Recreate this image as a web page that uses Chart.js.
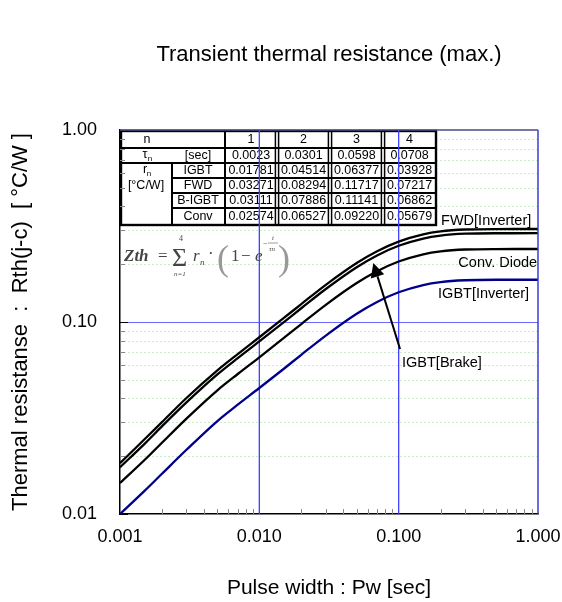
<!DOCTYPE html>
<html>
<head>
<meta charset="utf-8">
<script src="https://cdn.jsdelivr.net/npm/chart.js@4.4.1/dist/chart.umd.min.js"></script>
<style>
  html, body { margin: 0; padding: 0; background: #fff; }
</style>
</head>
<body>
<canvas id="thermalChart" width="562" height="602"></canvas>
<script>
// pulse width [sec] and Zth(j-c) [°C/W]
const pulseWidth   = [0.001, 0.0015, 0.002, 0.003, 0.005, 0.007, 0.01, 0.015, 0.02, 0.03, 0.05, 0.07, 0.1, 0.15, 0.2, 0.3, 0.5, 1.0];
const fwdInverter  = [0.0184, 0.0245, 0.0301, 0.0402, 0.0560, 0.0681, 0.0833, 0.1050, 0.1240, 0.1562, 0.2028, 0.2337, 0.2624, 0.2862, 0.2965, 0.3032, 0.3049, 0.3050];
const igbtBrake    = [0.0175, 0.0232, 0.0286, 0.0381, 0.0533, 0.0648, 0.0792, 0.0998, 0.1179, 0.1485, 0.1929, 0.2222, 0.2495, 0.2721, 0.2819, 0.2883, 0.2899, 0.2900];
const convDiode    = [0.0145, 0.0191, 0.0235, 0.0314, 0.0441, 0.0536, 0.0655, 0.0826, 0.0976, 0.1229, 0.1596, 0.1839, 0.2065, 0.2252, 0.2333, 0.2386, 0.2399, 0.2400];
const igbtInverter = [0.0100, 0.0132, 0.0162, 0.0216, 0.0305, 0.0371, 0.0453, 0.0571, 0.0675, 0.0850, 0.1104, 0.1272, 0.1428, 0.1558, 0.1614, 0.1650, 0.1660, 0.1660];

// tick labels (decades only)
const xTickLabels = ["0.001", "0.010", "0.100", "1.000"];
const yTickLabels = ["0.01", "0.10", "1.00"];

// parameter table shown in the chart
const tableCols = ["1", "2", "3", "4"];
const tauRow    = ["0.0023", "0.0301", "0.0598", "0.0708"];
const rowNames  = ["IGBT", "FWD", "B-IGBT", "Conv"];
const rRows = [
  ["0.01781", "0.04514", "0.06377", "0.03928"],
  ["0.03271", "0.08294", "0.11717", "0.07217"],
  ["0.03111", "0.07886", "0.11141", "0.06862"],
  ["0.02574", "0.06527", "0.09220", "0.05679"]
];

// curve labels (anchored in data coordinates)
const labelText  = ["FWD[Inverter]", "Conv. Diode", "IGBT[Inverter]", "IGBT[Brake]"];
const labelX     = [0.2015, 0.985, 0.1918, 0.1057];
const labelY     = [0.3377, 0.2022, 0.1396, 0.0613];
const labelAlign = ["left", "right", "left", "left"];

const FONT = '"Liberation Sans", Arial, sans-serif';
const SERIF = '"Liberation Serif", "DejaVu Serif", serif';

const decadeTicks = (lo, hi) => {
  const out = [];
  for (let e = lo; e < hi; e++) {
    for (let k = 1; k < 10; k++) out.push(Number((k * Math.pow(10, e)).toPrecision(3)));
  }
  out.push(Math.pow(10, hi));
  return out;
};
const isDecade = v => Math.abs(Math.log10(v) - Math.round(Math.log10(v))) < 1e-9;

function toPoints(arr) {
  return pulseWidth.map((x, i) => ({ x: x, y: arr[i] }));
}

const framePlugin = {
  id: "frame",
  beforeDatasetsDraw(chart) {
    const { ctx, chartArea: a, scales: { x, y } } = chart;
    ctx.save();
    // minor horizontal grid (light green dotted)
    ctx.strokeStyle = "#c9ecc9";
    ctx.lineWidth = 1;
    ctx.setLineDash([2, 2]);
    y.ticks.forEach(t => {
      if (isDecade(t.value)) return;
      const py = Math.round(y.getPixelForValue(t.value)) + 0.5;
      ctx.beginPath(); ctx.moveTo(a.left, py); ctx.lineTo(a.right, py); ctx.stroke();
    });
    ctx.setLineDash([]);
    // major horizontal grid
    ctx.strokeStyle = "#6a6aff";
    y.ticks.forEach(t => {
      if (!isDecade(t.value) || t.value <= y.min || t.value >= y.max) return;
      const py = Math.round(y.getPixelForValue(t.value)) + 0.5;
      ctx.beginPath(); ctx.moveTo(a.left, py); ctx.lineTo(a.right, py); ctx.stroke();
    });

    // parameter table
    const L = a.left, T = a.top;
    const cx = [0, 52, 105, 157, 210, 263, 316];
    const ry = [1, 18, 33, 48, 63, 78, 95];
    ctx.fillStyle = "#fff";
    ctx.fillRect(L, T + ry[0], cx[6], ry[6] - ry[0]);
    ctx.strokeStyle = "#000";
    const seg = (x1, y1, x2, y2) => { ctx.beginPath(); ctx.moveTo(L + x1, T + y1); ctx.lineTo(L + x2, T + y2); ctx.stroke(); };
    ctx.lineWidth = 2.4;
    ctx.strokeRect(L + 1, T + ry[0], cx[6] - 1, ry[6] - ry[0]);
    ctx.lineWidth = 2;
    seg(0, ry[1], cx[6], ry[1]);
    seg(0, ry[2], cx[6], ry[2]);
    for (let r = 3; r <= 5; r++) seg(cx[1], ry[r], cx[6], ry[r]);
    seg(cx[1], ry[2], cx[1], ry[6]);
    seg(cx[2], ry[0], cx[2], ry[6]);
    ctx.lineWidth = 1.5;
    for (let c = 3; c <= 5; c++) {
      seg(cx[c] - 1.6, ry[0], cx[c] - 1.6, ry[6]);
      seg(cx[c] + 1.6, ry[0], cx[c] + 1.6, ry[6]);
    }
    ctx.fillStyle = "#000";
    ctx.textAlign = "center";
    ctx.textBaseline = "middle";
    const cellFont = "12.5px " + FONT;
    ctx.font = cellFont;
    const mid = r => T + (ry[r] + ry[r + 1]) / 2 + 0.5;
    const colMid = c => L + (cx[c + 2] + cx[c + 3]) / 2;
    ctx.fillText("n", L + 27, mid(0));
    tableCols.forEach((s, i) => ctx.fillText(s, colMid(i), mid(0)));
    ctx.fillText("τ", L + 25, mid(1) - 1);
    ctx.font = "8px " + FONT;
    ctx.fillText("n", L + 30, mid(1) + 3);
    ctx.font = cellFont;
    ctx.fillText("[sec]", L + 78, mid(1));
    tauRow.forEach((s, i) => ctx.fillText(s, colMid(i), mid(1)));
    ctx.fillText("r", L + 25, mid(2) - 1);
    ctx.font = "8px " + FONT;
    ctx.fillText("n", L + 29, mid(2) + 3);
    ctx.font = cellFont;
    ctx.fillText("[°C/W]", L + 26, mid(3));
    rowNames.forEach((s, r) => {
      ctx.fillText(s, L + 78, mid(r + 2));
      rRows[r].forEach((v, i) => ctx.fillText(v, colMid(i), mid(r + 2)));
    });

    // formula
    ctx.fillStyle = "#444";
    ctx.textAlign = "left";
    ctx.textBaseline = "alphabetic";
    ctx.font = "italic bold 17px " + SERIF;
    ctx.fillText("Zth", L + 4, T + 131);
    ctx.font = "17px " + SERIF;
    ctx.fillText("=", L + 38, T + 131);
    ctx.font = "26px " + SERIF;
    ctx.fillText("Σ", L + 52, T + 136);
    ctx.font = "8px " + SERIF;
    ctx.fillText("4", L + 59, T + 111);
    ctx.font = "italic 7px " + SERIF;
    ctx.fillText("n=1", L + 54, T + 146);
    ctx.font = "italic 17px " + SERIF;
    ctx.fillText("r", L + 73, T + 131);
    ctx.font = "italic 9px " + SERIF;
    ctx.fillText("n", L + 80, T + 135);
    ctx.font = "17px " + SERIF;
    ctx.fillText("·", L + 88, T + 129);
    ctx.font = "36px " + SERIF;
    ctx.fillStyle = "#999";
    ctx.fillText("(", L + 97, T + 140);
    ctx.fillText(")", L + 158, T + 140);
    ctx.fillStyle = "#444";
    ctx.font = "17px " + SERIF;
    ctx.fillText("1", L + 111, T + 131);
    ctx.fillText("−", L + 121, T + 131);
    ctx.font = "italic 17px " + SERIF;
    ctx.fillText("e", L + 135, T + 131);
    ctx.font = "8px " + SERIF;
    ctx.fillText("−", L + 143, T + 116);
    ctx.font = "italic 7px " + SERIF;
    ctx.fillText("t", L + 152, T + 110);
    ctx.fillText("τn", L + 149, T + 121);
    ctx.strokeStyle = "#777";
    ctx.lineWidth = 0.7;
    seg(148, 113, 158, 113);

    // vertical major grid lines (drawn over the table)
    ctx.strokeStyle = "#4040ff";
    ctx.lineWidth = 1.3;
    x.ticks.forEach(t => {
      if (!isDecade(t.value) || t.value <= x.min || t.value >= x.max) return;
      const px = x.getPixelForValue(t.value);
      ctx.beginPath(); ctx.moveTo(px, a.top); ctx.lineTo(px, a.bottom); ctx.stroke();
    });

    // inward tick marks
    ctx.lineWidth = 1;
    ctx.strokeStyle = "#888";
    x.ticks.forEach(t => {
      if (isDecade(t.value)) return;
      const px = Math.round(x.getPixelForValue(t.value)) + 0.5;
      ctx.beginPath(); ctx.moveTo(px, a.bottom); ctx.lineTo(px, a.bottom - 5); ctx.stroke();
    });
    y.ticks.forEach(t => {
      const py = Math.round(y.getPixelForValue(t.value)) + 0.5;
      ctx.strokeStyle = isDecade(t.value) ? "#000" : "#888";
      ctx.beginPath(); ctx.moveTo(a.left, py); ctx.lineTo(a.left + (isDecade(t.value) ? 8 : 5), py); ctx.stroke();
    });
    ctx.restore();
  },
  afterDatasetsDraw(chart) {
    const { ctx, scales: { x, y } } = chart;
    ctx.save();
    // curve labels
    ctx.fillStyle = "#000";
    ctx.font = "14.5px " + FONT;
    ctx.textBaseline = "middle";
    labelText.forEach((s, i) => {
      ctx.textAlign = labelAlign[i];
      ctx.fillText(s, x.getPixelForValue(labelX[i]), y.getPixelForValue(labelY[i]));
    });
    // arrow to the IGBT[Brake] curve
    const x0 = x.getPixelForValue(0.1023), y0 = y.getPixelForValue(0.0724);
    const x1 = x.getPixelForValue(0.0658), y1 = y.getPixelForValue(0.2028);
    const ang = Math.atan2(y1 - y0, x1 - x0);
    const hl = 14, hw = 7;
    const bx = x1 - hl * Math.cos(ang), by = y1 - hl * Math.sin(ang);
    ctx.strokeStyle = "#000";
    ctx.lineWidth = 2;
    ctx.beginPath(); ctx.moveTo(x0, y0); ctx.lineTo(bx, by); ctx.stroke();
    ctx.beginPath();
    ctx.moveTo(x1, y1);
    ctx.lineTo(bx + hw * Math.sin(ang), by - hw * Math.cos(ang));
    ctx.lineTo(bx - hw * Math.sin(ang), by + hw * Math.cos(ang));
    ctx.closePath();
    ctx.fill();
    ctx.restore();
  },
  afterDraw(chart) {
    const { ctx, chartArea: a } = chart;
    ctx.save();
    ctx.lineWidth = 1.5;
    ctx.strokeStyle = "#4a4a86";
    ctx.beginPath(); ctx.moveTo(a.left, a.top); ctx.lineTo(a.right, a.top); ctx.stroke();
    ctx.strokeStyle = "#3c3cd0";
    ctx.beginPath(); ctx.moveTo(a.right, a.top); ctx.lineTo(a.right, a.bottom); ctx.stroke();
    // chart title, centred over the plot area
    ctx.fillStyle = "#000";
    ctx.font = "22px " + FONT;
    ctx.textAlign = "center";
    ctx.textBaseline = "middle";
    ctx.fillText("Transient thermal resistance (max.)", (a.left + a.right) / 2, 55);
    ctx.restore();
  }
};

const lineStyle = (color) => ({
  borderColor: color,
  borderWidth: 2.3,
  pointRadius: 0,
  fill: false,
  cubicInterpolationMode: "monotone"
});

new Chart(document.getElementById("thermalChart"), {
  type: "line",
  data: {
    datasets: [
      { label: "FWD[Inverter]", data: toPoints(fwdInverter), ...lineStyle("#000") },
      { label: "IGBT[Brake]", data: toPoints(igbtBrake), ...lineStyle("#000") },
      { label: "Conv. Diode", data: toPoints(convDiode), ...lineStyle("#000") },
      { label: "IGBT[Inverter]", data: toPoints(igbtInverter), ...lineStyle("#00008b") }
    ]
  },
  options: {
    responsive: false,
    animation: false,
    layout: { padding: { top: 130, right: 0, left: 0, bottom: 0 } },
    plugins: {
      legend: { display: false },
      tooltip: { enabled: false }
    },
    scales: {
      x: {
        type: "logarithmic",
        min: 0.001,
        max: 1,
        afterBuildTicks: s => { s.ticks = decadeTicks(-3, 0).map(v => ({ value: v })); },
        afterFit: s => { s.height = 88; s.paddingLeft = 0; s.paddingRight = 24; },
        grid: { display: false, drawTicks: false },
        border: { display: true, color: "#000", width: 1.5 },
        ticks: {
          autoSkip: false,
          maxRotation: 0,
          padding: 12,
          color: "#000",
          font: { family: FONT, size: 18 },
          callback: v => isDecade(v) ? xTickLabels[Math.round(Math.log10(v)) + 3] : ""
        },
        title: {
          display: true,
          text: "Pulse width : Pw [sec]",
          color: "#000",
          font: { family: FONT, size: 21 },
          padding: { top: 0, bottom: 1 }
        }
      },
      y: {
        type: "logarithmic",
        min: 0.01,
        max: 1,
        afterBuildTicks: s => { s.ticks = decadeTicks(-2, 0).map(v => ({ value: v })); },
        afterFit: s => { s.width = 120; s.paddingTop = 0; s.paddingBottom = 0; },
        grid: { display: false, drawTicks: false },
        border: { display: true, color: "#000", width: 1.5 },
        ticks: {
          autoSkip: false,
          padding: 23,
          color: "#000",
          font: { family: FONT, size: 18 },
          callback: v => isDecade(v) ? yTickLabels[Math.round(Math.log10(v)) + 2] : ""
        },
        title: {
          display: true,
          text: "Thermal resistanse  :  Rth(j-c)  [ °C/W ]",
          color: "#000",
          font: { family: FONT, size: 22 },
          padding: { top: 8, bottom: 0 }
        }
      }
    }
  },
  plugins: [framePlugin]
});
</script>
</body>
</html>
